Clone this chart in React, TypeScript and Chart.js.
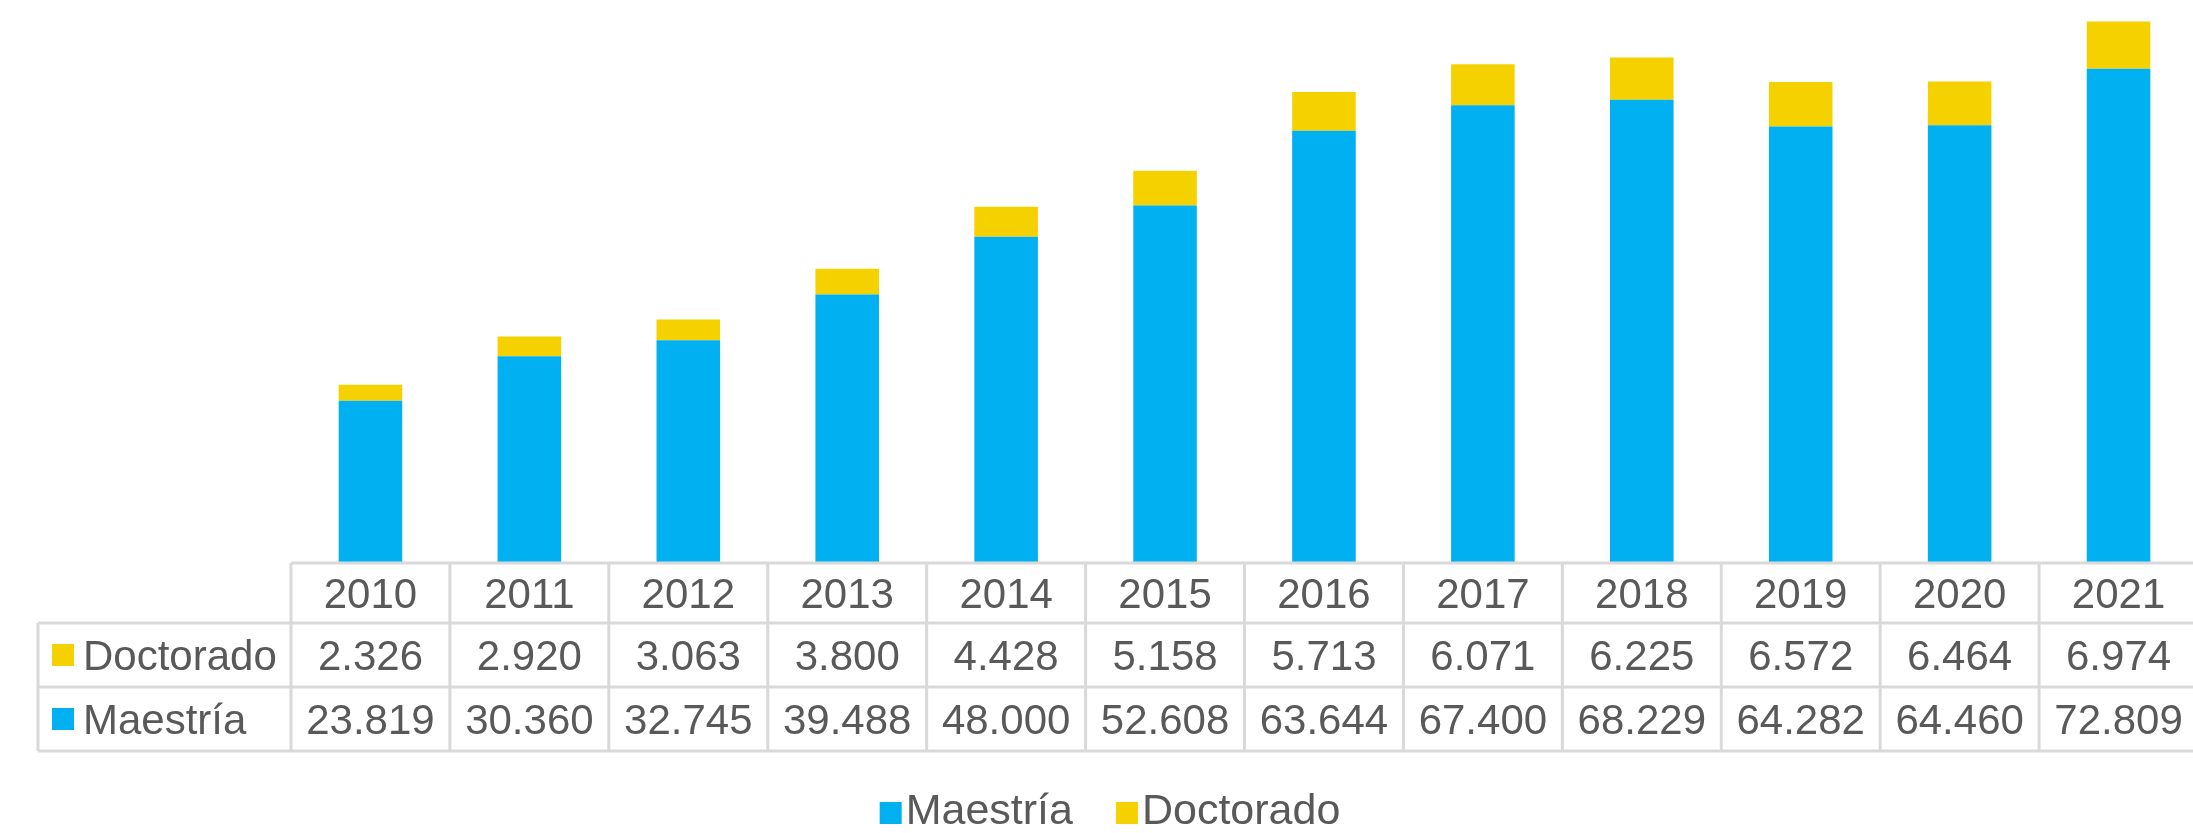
import React, { useEffect, useRef } from "react";
import { Chart, registerables } from "chart.js";

Chart.register(...registerables);

const years = ["2010", "2011", "2012", "2013", "2014", "2015", "2016", "2017", "2018", "2019", "2020", "2021"];
const maestria = [23819, 30360, 32745, 39488, 48000, 52608, 63644, 67400, 68229, 64282, 64460, 72809];
const doctorado = [2326, 2920, 3063, 3800, 4428, 5158, 5713, 6071, 6225, 6572, 6464, 6974];
const seriesNames = ["Maestría", "Doctorado"];
const yMax = 80000;

const BLUE = "#00B0F0";
const YELLOW = "#F6D100";
const TEXT = "#595959";
const GRID = "#D9D9D9";
const FONT = "Arial, 'Liberation Sans', sans-serif";

const fmt = (v: number) => String(v).replace(/\B(?=(\d{3})+(?!\d))/g, ".");

const tablePlugin = {
  id: "dataTable",
  afterDraw(chart: any) {
    const ctx = chart.ctx as CanvasRenderingContext2D;
    const area = chart.chartArea;
    const n = years.length;
    const colW = (area.right - area.left) / n;
    const top = area.bottom + 1;
    const headerH = 60;
    const rowH = 64;
    const y1 = top + headerH;
    const y2 = y1 + rowH;
    const y3 = y2 + rowH;
    const labelLeft = 38;
    const right = area.right;

    ctx.save();
    ctx.strokeStyle = GRID;
    ctx.lineWidth = 3;
    ctx.beginPath();
    // horizontal lines
    ctx.moveTo(area.left, top);
    ctx.lineTo(right, top);
    ctx.moveTo(labelLeft, y1);
    ctx.lineTo(right, y1);
    ctx.moveTo(labelLeft, y2);
    ctx.lineTo(right, y2);
    ctx.moveTo(labelLeft, y3);
    ctx.lineTo(right, y3);
    // vertical lines
    ctx.moveTo(labelLeft, y1);
    ctx.lineTo(labelLeft, y3);
    for (let i = 0; i <= n; i++) {
      const x = area.left + i * colW;
      ctx.moveTo(x, top);
      ctx.lineTo(x, y3);
    }
    ctx.stroke();

    ctx.fillStyle = TEXT;
    ctx.font = `42px ${FONT}`;
    ctx.textBaseline = "alphabetic";
    ctx.textAlign = "center";
    const cap = 15;
    for (let i = 0; i < n; i++) {
      const cx = chart.scales.x.getPixelForValue(i);
      ctx.fillText(years[i], cx, (top + y1) / 2 + cap);
      ctx.fillText(fmt(doctorado[i]), cx, (y1 + y2) / 2 + cap);
      ctx.fillText(fmt(maestria[i]), cx, (y2 + y3) / 2 + cap);
    }

    // row labels
    ctx.textAlign = "left";
    const rows = [
      { name: seriesNames[1], color: YELLOW, mid: (y1 + y2) / 2 },
      { name: seriesNames[0], color: BLUE, mid: (y2 + y3) / 2 },
    ];
    for (const r of rows) {
      ctx.fillStyle = r.color;
      ctx.fillRect(52, r.mid - 11, 22, 22);
      ctx.fillStyle = TEXT;
      ctx.fillText(r.name, 83, r.mid + cap);
    }

    // legend
    ctx.font = `43px ${FONT}`;
    const legendItems = [
      { name: seriesNames[0], color: BLUE },
      { name: seriesNames[1], color: YELLOW },
    ];
    const box = 22;
    const gapBox = 4;
    const gapItem = 43;
    const widths = legendItems.map((it) => ctx.measureText(it.name).width);
    const total = widths.reduce((a, w) => a + box + gapBox + w, 0) + gapItem * (legendItems.length - 1);
    const centerX = 1110;
    let lx = centerX - total / 2;
    const baseY = 824;
    legendItems.forEach((it, i) => {
      ctx.fillStyle = it.color;
      ctx.fillRect(lx, baseY - box, box, box);
      ctx.fillStyle = TEXT;
      ctx.fillText(it.name, lx + box + gapBox, baseY);
      lx += box + gapBox + widths[i] + gapItem;
    });
    ctx.restore();
  },
};

export default function App() {
  const ref = useRef<HTMLCanvasElement | null>(null);

  useEffect(() => {
    document.body.style.margin = "0";
    if (!ref.current) return;
    const chart = new Chart(ref.current, {
      type: "bar",
      data: {
        labels: years,
        datasets: [
          {
            label: seriesNames[0],
            data: maestria,
            backgroundColor: BLUE,
            borderWidth: 0,
            barPercentage: 0.4,
            categoryPercentage: 1,
          },
          {
            label: seriesNames[1],
            data: doctorado,
            backgroundColor: YELLOW,
            borderWidth: 0,
            barPercentage: 0.4,
            categoryPercentage: 1,
          },
        ],
      },
      options: {
        responsive: false,
        animation: false,
        devicePixelRatio: 1,
        layout: { padding: { left: 291, right: 0, top: 20, bottom: 271 } },
        plugins: {
          legend: { display: false },
          tooltip: { enabled: false },
          title: { display: false },
        },
        scales: {
          x: {
            stacked: true,
            display: false,
            offset: true,
          },
          y: {
            stacked: true,
            display: false,
            min: 0,
            max: yMax,
          },
        },
      },
      plugins: [tablePlugin],
    });
    return () => chart.destroy();
  }, []);

  return (
    <div
      style={{
        position: "fixed",
        left: 0,
        top: 0,
        width: 2193,
        height: 833,
        overflow: "hidden",
        background: "#fff",
      }}
    >
      <canvas ref={ref} width={2198} height={833} style={{ display: "block", width: 2198, height: 833 }} />
    </div>
  );
}
